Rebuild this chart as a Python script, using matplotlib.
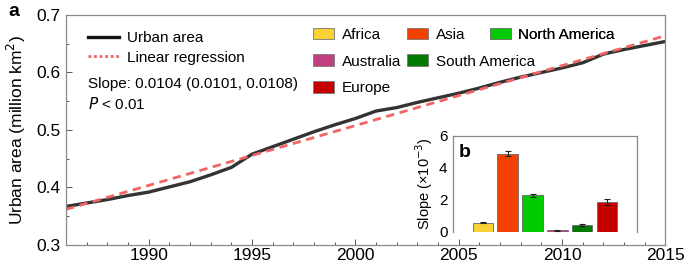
import numpy as np
import matplotlib.pyplot as plt
from matplotlib.lines import Line2D
from matplotlib.patches import Patch
from matplotlib.ticker import MultipleLocator

plt.rcParams['font.family'] = ['Liberation Sans', 'DejaVu Sans']

# данные: площадь городов по годам (млн км2)
years = np.arange(1986, 2016)
urban = [0.367, 0.373, 0.379, 0.386, 0.392, 0.401, 0.410, 0.422, 0.435, 0.458,
         0.471, 0.484, 0.497, 0.509, 0.520, 0.533, 0.539, 0.548, 0.556, 0.564,
         0.573, 0.583, 0.592, 0.600, 0.608, 0.617, 0.632, 0.640, 0.647, 0.654]
# линейная регрессия (концы)
reg_years = [1986, 2015]
reg_values = [0.362, 0.664]

# вставка: наклон по континентам (x10^-3)
continents = ['Africa', 'Asia', 'North America', 'Australia', 'South America', 'Europe']
slopes = [0.56, 4.88, 2.28, 0.09, 0.42, 1.87]
slope_err = [0.03, 0.17, 0.08, 0.02, 0.04, 0.19]
colors = ['#F9D335', '#F24100', '#00CC00', '#C0407F', '#007A00', '#C40000']

grey = '#888888'

fig = plt.figure(figsize=(6.85, 2.65), dpi=100)
ax = fig.add_axes([0.0964, 0.0755, 0.8751, 0.8679])

ax.plot(years, urban, color='#333333', lw=2.4, solid_capstyle='butt')
ax.plot(reg_years, reg_values, color='#F06464', lw=2.0, dashes=(3, 2))

ax.set_xlim(1986, 2015)
ax.set_ylim(0.3, 0.7)
ax.xaxis.set_major_locator(MultipleLocator(5))
ax.xaxis.set_minor_locator(MultipleLocator(1))
ax.yaxis.set_major_locator(MultipleLocator(0.1))
ax.yaxis.set_minor_locator(MultipleLocator(0.05))
# тики внутрь, как в оригинале
ax.tick_params(which='both', direction='in', color='#555555', labelsize=12.5)
ax.tick_params(which='major', length=4.3, width=0.7)
ax.tick_params(which='minor', length=2.5, width=0.7)
ax.tick_params(axis='x', which='major', pad=2.3)
ax.tick_params(axis='y', which='major', pad=4)
for s in ax.spines.values():
    s.set_color(grey)
    s.set_linewidth(0.9)
ax.set_ylabel('Urban area (million km$^2$)', fontsize=12.5, labelpad=6)

# легенда линий
h = [Line2D([], [], color='#111111', lw=2.4),
     Line2D([], [], color='#F06464', lw=2.0, linestyle=(0, (1, 1)))]
leg = ax.legend(h, ['Urban area', 'Linear regression'], loc='upper left',
                bbox_to_anchor=(0.0367, 0.93), frameon=False, fontsize=11,
                handlelength=2.0, handletextpad=0.55, labelspacing=0.36,
                borderaxespad=0, borderpad=0)
ax.add_artist(leg)
ax.text(0.0367, 0.70, 'Slope: 0.0104 (0.0101, 0.0108)', transform=ax.transAxes,
        fontsize=11, va='center')
ax.text(0.0367, 0.612, '$\\it{P}$ < 0.01', transform=ax.transAxes,
        fontsize=11, va='center')

# легенда континентов: три колонки
cols = [[0, 3, 5], [1, 4], [2]]
xs = [0.412, 0.569, 0.707]
for c, x0 in zip(cols, xs):
    hh = [Patch(facecolor=colors[i], edgecolor='#777777', lw=0.6) for i in c]
    lg = ax.legend(hh, [continents[i] for i in c], loc='upper left',
                   bbox_to_anchor=(x0, 0.945), frameon=False, fontsize=11,
                   handlelength=1.37, handleheight=0.8, handletextpad=0.5,
                   labelspacing=0.83, borderaxespad=0, borderpad=0)
    ax.add_artist(lg)

fig.text(0.012, 0.955, 'a', fontsize=14, fontweight='bold', va='center')

# вставка b
ins = fig.add_axes([0.6613, 0.1256, 0.2686, 0.3623])
ins.bar(range(len(slopes)), slopes, width=0.82, color=colors,
        edgecolor='#666666', lw=0.6, yerr=slope_err,
        error_kw=dict(ecolor='#222222', elinewidth=0.8, capsize=2.5, capthick=0.8))
ins.set_xlim(-1.2, 6.2)
ins.set_ylim(0, 6)
ins.set_yticks([0, 2, 4, 6])
ins.set_xticks([])
ins.tick_params(axis='y', length=0, labelsize=11, pad=4)
ins.spines['bottom'].set_visible(False)
for k in ['top', 'right', 'left']:
    ins.spines[k].set_color(grey)
    ins.spines[k].set_linewidth(0.9)
ins.set_ylabel('Slope (×10$^{-3}$)', fontsize=10.5, labelpad=3)
ins.text(0.03, 0.83, 'b', transform=ins.transAxes, fontsize=14,
         fontweight='bold', va='center')

fig.savefig('out.png', dpi=100)
